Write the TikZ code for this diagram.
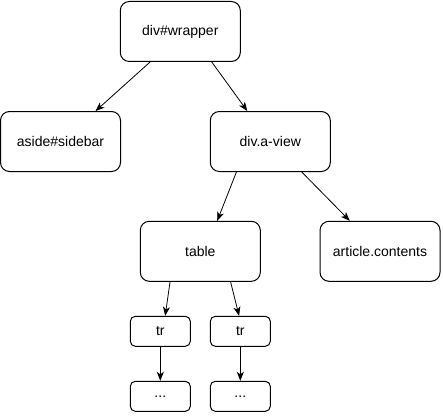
\documentclass[tikz,border=0pt]{standalone}
\usepackage{fontspec}
\setmainfont{Liberation Sans}
\usetikzlibrary{arrows.meta,calc}
\begin{document}
\begin{tikzpicture}[x=1pt,y=-1pt,
  box/.style={draw=black,line width=1pt,rectangle,rounded corners=9pt,
    minimum width=120pt,minimum height=60pt,inner sep=0pt,
    font=\fontsize{14}{16}\selectfont},
  smallbox/.style={box,rounded corners=5pt,minimum width=60pt,minimum height=30pt},
  edge/.style={line width=0.8pt,-{Stealth[length=9pt,width=7pt,inset=2.5pt]}}]
\useasboundingbox[fill=white] (0,0) rectangle (443,417);
\node[box] (wrapper) at (180.3,31.5) {div\#wrapper};
\node[box] (sidebar) at (60.5,141.5) {aside\#sidebar};
\node[box] (aview) at (270.3,141.5) {div.a-view};
\node[box] (table) at (200.3,251.3) {table};
\node[box] (article) at (380,251.3) {article.contents};
\node[smallbox] (tr1) at (160.3,331.3) {tr};
\node[smallbox] (tr2) at (240.3,331.3) {tr};
\node[smallbox] (dots1) at (160.3,396.3) {...};
\node[smallbox] (dots2) at (240.3,396.3) {...};
\draw[edge] ($(wrapper.south west)!0.25!(wrapper.south east)$) -- ($(sidebar.north west)!0.79!(sidebar.north east)$);
\draw[edge] ($(wrapper.south west)!0.76!(wrapper.south east)$) -- ($(aview.north west)!0.31!(aview.north east)$);
\draw[edge] ($(aview.south west)!0.22!(aview.south east)$) -- ($(table.north west)!0.64!(table.north east)$);
\draw[edge] ($(aview.south west)!0.76!(aview.south east)$) -- ($(article.north west)!0.25!(article.north east)$);
\draw[edge] ($(table.south west)!0.25!(table.south east)$) -- ($(tr1.north west)!0.58!(tr1.north east)$);
\draw[edge] ($(table.south west)!0.75!(table.south east)$) -- ($(tr2.north west)!0.48!(tr2.north east)$);
\draw[edge] (tr1.south) -- (dots1.north);
\draw[edge] (tr2.south) -- (dots2.north);
\end{tikzpicture}
\end{document}
